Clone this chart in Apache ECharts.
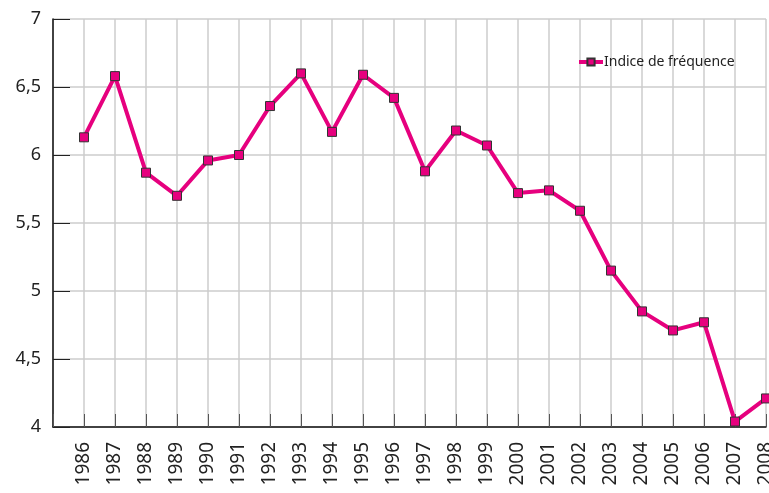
<!DOCTYPE html>
<html><head><meta charset="utf-8">
<script src="https://cdn.jsdelivr.net/npm/echarts@6/dist/echarts.min.js"></script>
<style>html,body{margin:0;padding:0;background:#fff}#c{width:769px;height:493px}</style>
</head><body><div id="c"></div>
<script>
const years = [1986,1987,1988,1989,1990,1991,1992,1993,1994,1995,1996,1997,1998,1999,2000,2001,2002,2003,2004,2005,2006,2007,2008];
const indice = [6.13,6.58,5.87,5.70,5.96,6.00,6.36,6.60,6.17,6.59,6.42,5.88,6.18,6.07,5.72,5.74,5.59,5.15,4.85,4.71,4.77,4.04,4.21];
const seriesName = 'Indice de fréquence';
const FONT = 'Noto Sans';
const chart = echarts.init(document.getElementById('c'));
chart.setOption({
  animation: false,
  textStyle: {fontFamily: FONT},
  grid: {left: 53, right: 3, top: 19, bottom: 66, containLabel: false, outerBoundsMode: 'none'},
  legend: {
    left: 572, top: 50, itemWidth: 24, itemHeight: 9, itemGap: 4,
    lineStyle: {width: 4, color: '#e6007e'},
    textStyle: {fontFamily: FONT, fontSize: 14, color: '#222', padding: [0,0,0,-4]},
    data: [seriesName]
  },
  xAxis: {
    type: 'value', min: 1985, max: 2008, interval: 1,
    axisLine: {show: true, onZero: false, lineStyle: {color: '#111', width: 1.5}},
    axisTick: {show: true, inside: true, length: 13, lineStyle: {color: '#555'}},
    splitLine: {show: true, lineStyle: {color: '#cccccc', width: 1.5}},
    axisLabel: {rotate: 90, fontSize: 19, color: '#222', margin: 15,
      formatter: v => v === 1985 ? '' : String(v)}
  },
  yAxis: {
    type: 'value', min: 4, max: 7, interval: 0.5,
    axisLine: {show: true, lineStyle: {color: '#111', width: 1.5}},
    axisTick: {show: true, inside: true, length: 17, lineStyle: {color: '#222'}},
    splitLine: {show: true, lineStyle: {color: '#cccccc', width: 1.5}},
    axisLabel: {fontSize: 18, color: '#222', margin: 12,
      formatter: v => String(v).replace('.', ',')}
  },
  series: [{
    name: seriesName, type: 'line',
    data: years.map((y, i) => [y, indice[i]]),
    lineStyle: {color: '#e6007e', width: 4},
    itemStyle: {color: '#e6007e', borderColor: '#333', borderWidth: 1},
    symbol: 'rect', symbolSize: 9, showAllSymbol: true
  }]
});
</script></body></html>
